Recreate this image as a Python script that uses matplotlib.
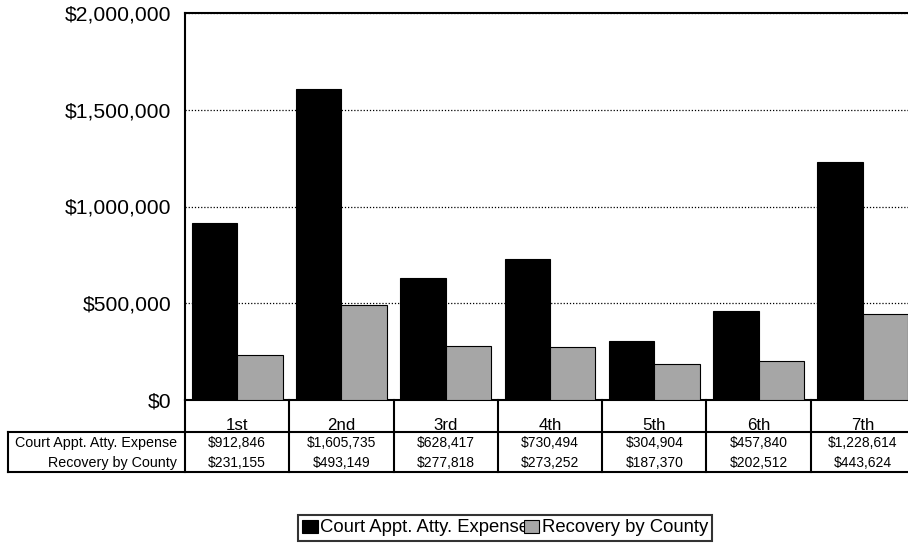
"""
Court appointed attorney expense vs. recovery by county, by district
"""
import matplotlib
matplotlib.use("Agg")
import matplotlib.pyplot as plt
import matplotlib.transforms as mtransforms

districts = ["1st", "2nd", "3rd", "4th", "5th", "6th", "7th"]
expense = [912846, 1605735, 628417, 730494, 304904, 457840, 1228614]
recovery = [231155, 493149, 277818, 273252, 187370, 202512, 443624]
series_names = ["Court Appt. Atty. Expense", "Recovery by County"]
yticks = [0, 500000, 1000000, 1500000, 2000000]

plt.rcParams["font.family"] = ["Liberation Sans", "DejaVu Sans"]

def money(v):
    return "${:,}".format(v)

fig = plt.figure(figsize=(9.08, 5.44), dpi=100)
# axes runs a little past the right edge of the figure
ax = fig.add_axes([185/908, 1-400/544, 730/908, 387/544])

x = list(range(len(districts)))
w = 0.436
b1 = ax.bar([i - w/2 for i in x], expense, w, color="black", edgecolor="black",
            linewidth=0.8, label=series_names[0], zorder=3)
b2 = ax.bar([i + w/2 for i in x], recovery, w, color="#a6a6a6", edgecolor="black",
            linewidth=0.8, label=series_names[1], zorder=3)

ax.set_xlim(-0.5, len(districts) - 0.5)
ax.set_ylim(0, 2000000)
ax.set_yticks(yticks)
ax.set_yticklabels([money(v) for v in yticks], fontsize=15.2)
ax.tick_params(axis="y", length=0, pad=10)
ax.set_xticks([])
ax.grid(axis="y", color="black", linestyle=(0, (1, 1.5)), linewidth=0.9, zorder=1)
for s in ["left", "top", "bottom"]:
    ax.spines[s].set_linewidth(1.5)
ax.spines["right"].set_visible(False)

# data table under the plot
ph = 387.0
pw = 730.0
y_hdr = -32/ph
y_end = -72/ph
x_lab = -177/pw
lk = dict(color="black", linewidth=1.5, clip_on=False, transform=ax.transAxes)
ax.plot([x_lab, 1], [y_hdr, y_hdr], **lk)
ax.plot([x_lab, 1], [y_end, y_end], **lk)
ax.plot([x_lab, x_lab], [y_hdr, y_end], **lk)
ax.plot([0, 0], [0, y_end], **lk)

blend = mtransforms.blended_transform_factory(ax.transData, ax.transAxes)
for i in x:
    ax.plot([i + 0.5, i + 0.5], [0, y_end], color="black", linewidth=1.5,
            clip_on=False, transform=blend)
    ax.text(i, -29.5/ph, districts[i], transform=blend, ha="center",
            va="baseline", fontsize=12.2)
    ax.text(i, -43/ph, money(expense[i]), transform=blend, ha="center",
            va="center", fontsize=10)
    ax.text(i, -63/ph, money(recovery[i]), transform=blend, ha="center",
            va="center", fontsize=10)

ax.text(-8/pw, -43/ph, series_names[0], transform=ax.transAxes, ha="right",
        va="center", fontsize=10.3)
ax.text(-8/pw, -63/ph, series_names[1], transform=ax.transAxes, ha="right",
        va="center", fontsize=10.3)

leg = fig.legend(handles=[b1, b2], loc="center", bbox_to_anchor=(505/908, 1-528/544),
                 ncol=2, fontsize=13.3, frameon=True, fancybox=False,
                 handlelength=0.85, handleheight=0.7, handletextpad=0.12,
                 columnspacing=-0.3, borderpad=0.22, borderaxespad=0)
leg.get_frame().set_edgecolor("black")
leg.get_frame().set_linewidth(1.5)

fig.savefig("out.png", dpi=100)
